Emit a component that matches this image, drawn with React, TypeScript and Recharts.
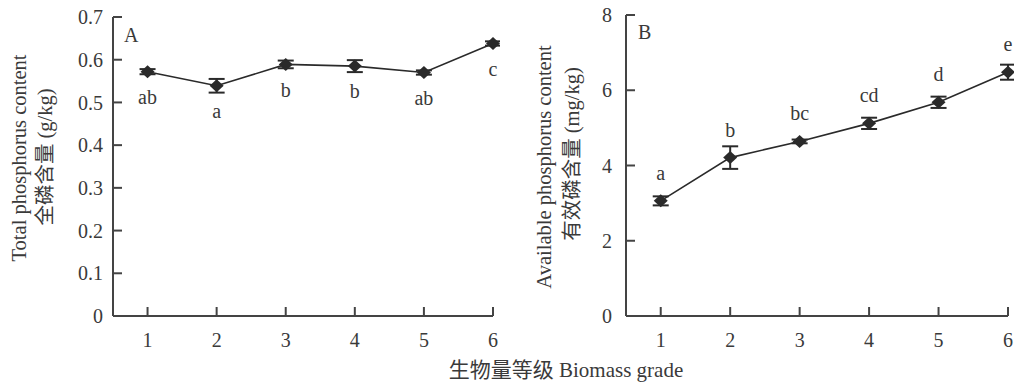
import { ErrorBar, Label, LabelList, Line, LineChart, XAxis, YAxis } from 'recharts'

const grades = [1, 2, 3, 4, 5, 6]

const totalP = [0.572, 0.539, 0.589, 0.585, 0.57, 0.638]
const totalPErr = [0.006, 0.016, 0.009, 0.014, 0.005, 0.005]
const totalPLetters = ['ab', 'a', 'b', 'b', 'ab', 'c']
const totalTicks = [0, 0.1, 0.2, 0.3, 0.4, 0.5, 0.6, 0.7]

const availP = [3.06, 4.21, 4.64, 5.12, 5.68, 6.48]
const availPErr = [0.12, 0.3, 0.05, 0.15, 0.15, 0.2]
const availPLetters = ['a', 'b', 'bc', 'cd', 'd', 'e']
const availTicks = [0, 2, 4, 6, 8]

const SERIF = '"Liberation Serif", "Times New Roman", "Noto Sans CJK SC", serif'
const INK = '#2a2a2a'
const TEXT = '#3a3a3a'

type Row = { grade: number; value: number; err: number; letter: string }

const rowsOf = (vals: number[], errs: number[], letters: string[]): Row[] =>
  grades.map((g, i) => ({ grade: g, value: vals[i], err: errs[i], letter: letters[i] }))

function Diamond(props: any) {
  const { cx, cy } = props
  if (cx == null || cy == null) return <g />
  return <path d={`M${cx},${cy - 6.5}L${cx + 7},${cy}L${cx},${cy + 6.5}L${cx - 7},${cy}Z`} fill={INK} />
}

function Panel(props: {
  left: number
  top: number
  yWidth: number
  right: number
  domain: [number, number]
  ticks: number[]
  fmt: (v: number) => string
  rows: Row[]
  title: [string, string]
  titleX: [number, number]
  titleY: [number, number]
  tag: string
  tagX: number
  tagY: number
  letterSide: 'top' | 'bottom'
  yTickMargin: number
}) {
  const titleFn = () => (
    <g fill={TEXT} fontFamily={SERIF} fontSize={20.5}>
      <text transform={`translate(${props.titleX[0]},${props.titleY[0]}) rotate(-90)`} textAnchor="middle" dominantBaseline="central">
        {props.title[0]}
      </text>
      <text transform={`translate(${props.titleX[1]},${props.titleY[1]}) rotate(-90)`} textAnchor="middle" dominantBaseline="central">
        {props.title[1]}
      </text>
      <text x={props.tagX} y={props.tagY} fontSize={20} dominantBaseline="central">
        {props.tag}
      </text>
    </g>
  )

  return (
    <div style={{ position: 'absolute', left: props.left, top: 0 }}>
      <LineChart
        width={500}
        height={387}
        data={props.rows}
        margin={{ top: props.top, right: props.right, bottom: 41, left: 0 }}
      >
        <XAxis
          dataKey="grade"
          type="number"
          domain={[0.5, 6]}
          ticks={grades}
          height={30}
          tickSize={-9}
          tickMargin={26}
          stroke="#444"
          strokeWidth={2}
          tick={{ fill: TEXT, fontSize: 20, fontFamily: SERIF }}
        />
        <YAxis
          type="number"
          domain={props.domain}
          ticks={props.ticks}
          width={props.yWidth}
          tickSize={-9}
          tickMargin={props.yTickMargin}
          stroke="#444"
          strokeWidth={2}
          tickFormatter={props.fmt}
          tick={{ fill: TEXT, fontSize: 20, fontFamily: SERIF }}
        >
          <Label content={titleFn} />
        </YAxis>
        <Line
          dataKey="value"
          stroke={INK}
          strokeWidth={1.6}
          dot={<Diamond />}
          activeDot={false}
          isAnimationActive={false}
        >
          <ErrorBar dataKey="err" width={8} stroke={INK} strokeWidth={2} direction="y" />
          <LabelList
            dataKey="letter"
            position={props.letterSide}
            offset={props.letterSide === 'bottom' ? 18 : 21}
            fill={TEXT}
            fontSize={20}
            fontFamily={SERIF}
          />
        </Line>
      </LineChart>
    </div>
  )
}

export default function App() {
  return (
    <div style={{ position: 'absolute', left: 0, top: 0, width: 1014, height: 387, background: '#fff' }}>
      <Panel
        left={0}
        top={17}
        yWidth={113}
        right={7}
        domain={[0, 0.7]}
        ticks={totalTicks}
        fmt={(v) => (v === 0 ? '0' : v.toFixed(1))}
        rows={rowsOf(totalP, totalPErr, totalPLetters)}
        title={['Total phosphorus content', '全磷含量 (g/kg)']}
        titleX={[19, 45]}
        titleY={[158, 157]}
        tag="A"
        tagX={124}
        tagY={35}
        letterSide="bottom"
        yTickMargin={19}
      />
      <Panel
        left={514}
        top={15}
        yWidth={112}
        right={6}
        domain={[0, 8]}
        ticks={availTicks}
        fmt={(v) => String(v)}
        rows={rowsOf(availP, availPErr, availPLetters)}
        title={['Available phosphorus content', '有效磷含量 (mg/kg)']}
        titleX={[30, 58]}
        titleY={[167, 154]}
        tag="B"
        tagX={124}
        tagY={32}
        letterSide="top"
        yTickMargin={23}
      />
      <div
        style={{
          position: 'absolute',
          left: 416,
          width: 300,
          top: 358,
          textAlign: 'center',
          fontFamily: SERIF,
          fontSize: 21,
          color: TEXT,
          lineHeight: '24px',
        }}
      >
        生物量等级 Biomass grade
      </div>
    </div>
  )
}
